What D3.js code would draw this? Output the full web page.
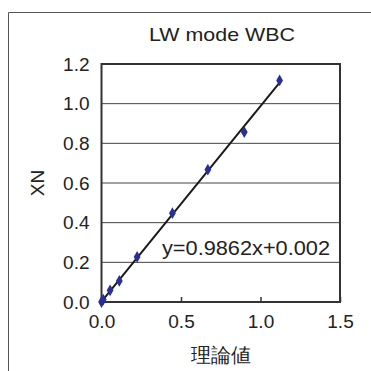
<!DOCTYPE html>
<html>
<head>
<meta charset="utf-8">
<script src="https://cdn.jsdelivr.net/npm/d3@7"></script>
<style>
  html, body { margin: 0; padding: 0; background: #fff; }
  svg { display: block; }
  text { font-family: "Liberation Sans", Arial, Helvetica, sans-serif; fill: #222; }
</style>
</head>
<body>
<svg id="chart" width="371" height="371"></svg>
<script>
// Measured values: theoretical value vs. XN reading
const theoretical = [0.00, 0.011, 0.054, 0.112, 0.224, 0.446, 0.669, 0.898, 1.120];
const measuredXN  = [0.00, 0.012, 0.059, 0.106, 0.227, 0.448, 0.667, 0.857, 1.117];
const xTicks = [0.0, 0.5, 1.0, 1.5];
const yTicks = [0.0, 0.2, 0.4, 0.6, 0.8, 1.0, 1.2];
const fitSlope = 0.9862;
const fitIntercept = 0.002;
const fitLabel = "y=0.9862x+0.002";
const chartTitle = "LW mode WBC";
const xTitle = "理論値";
const yTitle = "XN";

const svg = d3.select("#chart");
const plot = { left: 101.5, right: 340, top: 64, bottom: 302 };

const x = d3.scaleLinear().domain([0, 1.5]).range([plot.left, plot.right]);
const y = d3.scaleLinear().domain([0, 1.2]).range([plot.bottom, plot.top]);

// Outer frame (top and left edges)
svg.append("path")
  .attr("d", `M8.5,371 V12.5 H371`)
  .attr("fill", "none").attr("stroke", "#555").attr("stroke-width", 1);

// Title
svg.append("text").attr("x", 149).attr("y", 40.5)
  .attr("font-size", 19)
  .attr("textLength", 146).attr("lengthAdjust", "spacingAndGlyphs")
  .text(chartTitle);

// Horizontal gridlines
svg.append("g").selectAll("line")
  .data(yTicks.filter(t => t > 0 && t < 1.2))
  .join("line")
  .attr("x1", plot.left).attr("x2", plot.right)
  .attr("y1", d => y(d)).attr("y2", d => y(d))
  .attr("stroke", "#444").attr("stroke-width", 1);

// X axis ticks (pointing into the plot) and labels
const xAxis = d3.axisBottom(x).tickValues(xTicks).tickFormat(d3.format(".1f"))
  .tickSizeInner(-5).tickSizeOuter(0).tickPadding(13);
const gx = svg.append("g").attr("transform", `translate(0,${plot.bottom})`).call(xAxis);
gx.select(".domain").remove();
gx.selectAll(".tick line").attr("stroke", "#333").attr("stroke-width", 1.5);
gx.selectAll(".tick text").attr("font-size", 19).attr("fill", "#222")
  .attr("font-family", "Liberation Sans, Arial, sans-serif");

// Y axis labels
const yAxis = d3.axisLeft(y).tickValues(yTicks).tickFormat(d3.format(".1f"))
  .tickSize(0).tickPadding(12);
const gy = svg.append("g").attr("transform", `translate(${plot.left},0)`).call(yAxis);
gy.select(".domain").remove();
gy.selectAll(".tick text").attr("font-size", 19).attr("fill", "#222")
  .attr("font-family", "Liberation Sans, Arial, sans-serif");

// Plot border
svg.append("rect")
  .attr("x", plot.left).attr("y", plot.top)
  .attr("width", plot.right - plot.left).attr("height", plot.bottom - plot.top)
  .attr("fill", "none").attr("stroke", "#333").attr("stroke-width", 2);

// Axis titles
svg.append("text").attr("x", 221).attr("y", 362)
  .attr("text-anchor", "middle").attr("font-size", 20)
  .attr("font-family", "Noto Sans CJK JP, sans-serif").text(xTitle);
svg.append("text")
  .attr("transform", `translate(43.5,${(plot.top + plot.bottom) / 2}) rotate(-90)`)
  .attr("text-anchor", "middle").attr("font-size", 19).text(yTitle);

// Linear fit line
const xMax = d3.max(theoretical);
svg.append("line")
  .attr("x1", x(0)).attr("y1", y(fitIntercept))
  .attr("x2", x(xMax)).attr("y2", y(fitSlope * xMax + fitIntercept))
  .attr("stroke", "#1a1a1a").attr("stroke-width", 2);

// Data points (diamonds)
const diamond = d3.symbol().type(d3.symbolDiamond).size(40);
svg.append("g").selectAll("path")
  .data(theoretical.map((t, i) => [t, measuredXN[i]]))
  .join("path")
  .attr("d", diamond)
  .attr("transform", d => `translate(${x(d[0])},${y(d[1])})`)
  .attr("fill", "#2a2f94");

// Regression equation
svg.append("text").attr("x", 162).attr("y", 255)
  .attr("font-size", 20)
  .attr("textLength", 168).attr("lengthAdjust", "spacingAndGlyphs")
  .text(fitLabel);
</script>
</body>
</html>
